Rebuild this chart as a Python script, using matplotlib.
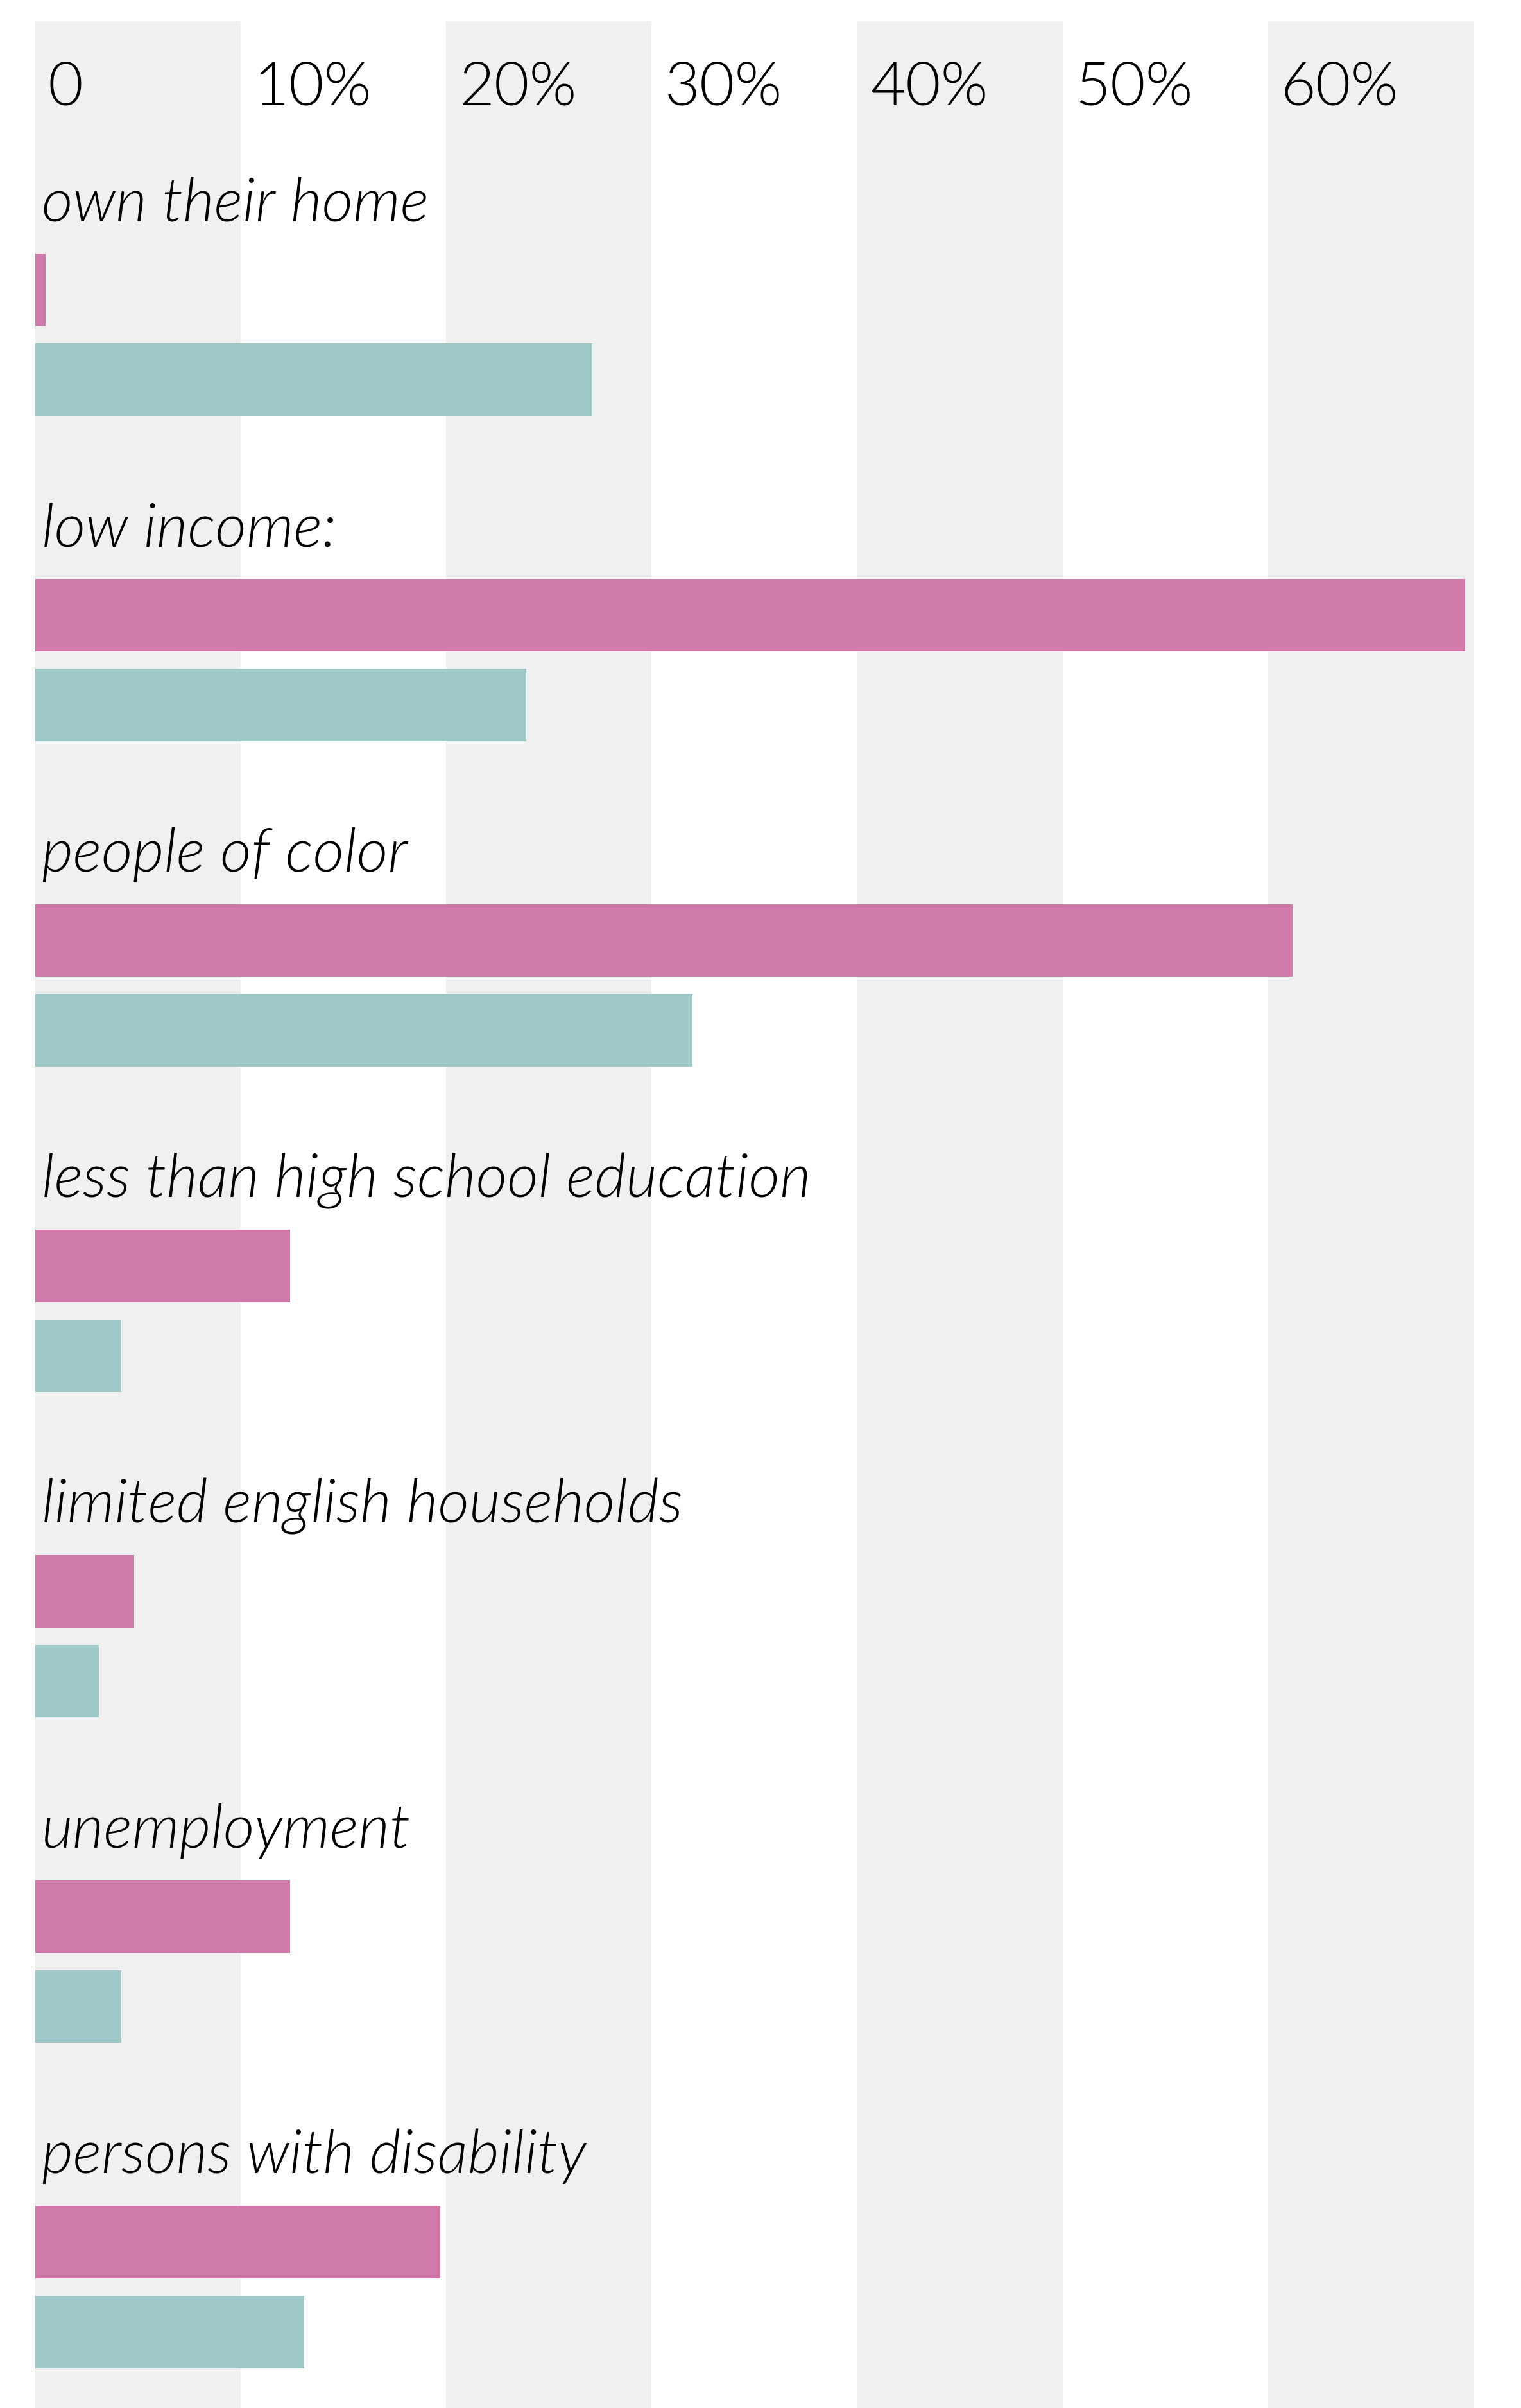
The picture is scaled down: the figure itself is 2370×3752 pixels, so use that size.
import matplotlib
matplotlib.use("Agg")
import matplotlib.pyplot as plt
import matplotlib.transforms as mtransforms
import numpy as np

categories = ["own their home", "low income:", "people of color",
              "less than high school education", "limited english households",
              "unemployment", "persons with disability"]
pink_vals = [0.5, 69.6, 61.2, 12.4, 4.8, 12.4, 19.7]
teal_vals = [27.1, 23.9, 32.0, 4.2, 3.1, 4.2, 13.1]
tick_vals = [0, 10, 20, 30, 40, 50, 60]
tick_labels = ["0", "10%", "20%", "30%", "40%", "50%", "60%"]

PINK = "#d07aa9"
TEAL = "#9fc8c9"
BAND = "#f0f0f0"

W, H = 2370, 3752
fig = plt.figure(figsize=(W / 100, H / 100), dpi=100)
ax = fig.add_axes([55 / W, 0, (2296 - 55) / W, (H - 33) / H])

bar_h = 0.223
y = np.arange(len(categories))
ax.barh(y, pink_vals, height=bar_h, color=PINK, zorder=2)
ax.barh(y + 0.276, teal_vals, height=bar_h, color=TEAL, zorder=2)

# alternating grey columns
for s in range(0, 70, 20):
    ax.axvspan(s, s + 10, color=BAND, zorder=0, lw=0)

ax.set_xlim(0, 70)
ax.set_ylim(6.51, -0.825)
ax.axis("off")

font = dict(family=["Lato", "DejaVu Sans"], weight=300, size=68, color="black")

tick_tr = mtransforms.offset_copy(ax.get_xaxis_transform(), fig=fig, x=20, y=0, units="dots")
for t, lab in zip(tick_vals, tick_labels):
    ax.text(t, 1 - 131 / (H - 33), lab, transform=tick_tr, va="baseline", ha="left", **font)

lab_tr = mtransforms.offset_copy(ax.transData, fig=fig, x=10, y=0, units="dots")
for i, cat in enumerate(categories):
    ax.text(0, i - bar_h / 2 - 0.1, cat, transform=lab_tr, va="baseline", ha="left",
            style="italic", **font)

fig.savefig("out.png", dpi=100, facecolor="white")
